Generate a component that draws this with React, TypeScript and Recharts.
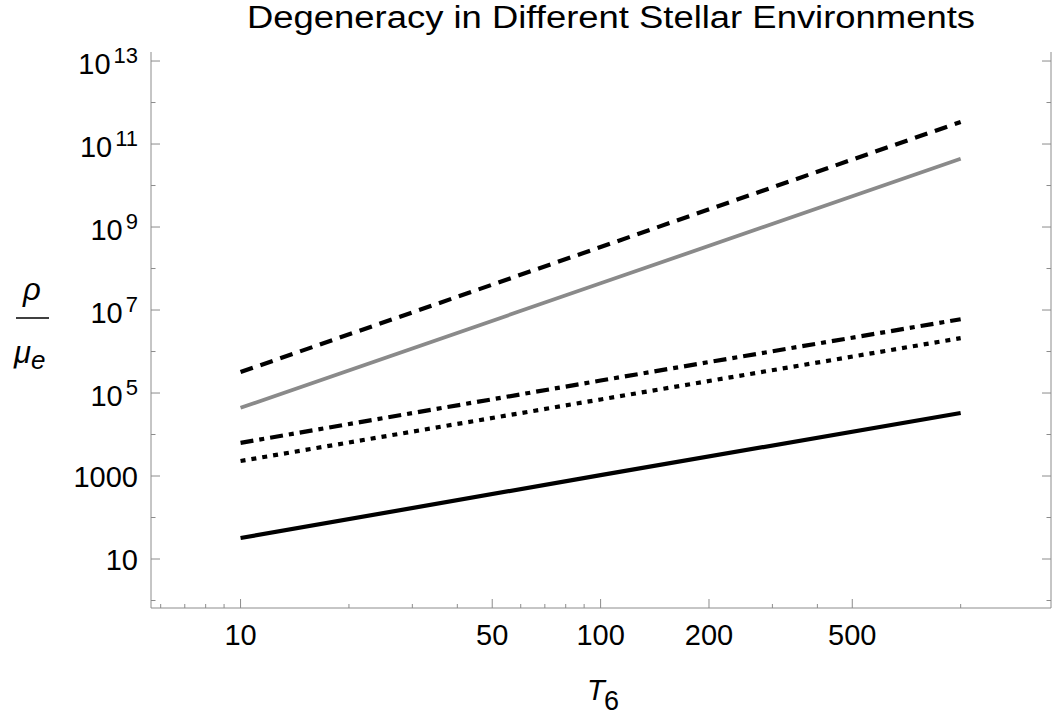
import { LineChart, Line, XAxis, YAxis } from 'recharts';

// T6 sample points
const temps = [10, 100, 1000];

// rho / mu_e at T6 = 10, 100, 1000
const solidBlack = [32, 1050, 33000];
const dotted = [2300, 70000, 2100000];
const dashDot = [6300, 200000, 6000000];
const solidGray = [44000, 44000000, 44000000000];
const dashed = [320000, 330000000, 340000000000];

const xMajor = [10, 50, 100, 200, 500];
const xMinor = [6, 7, 8, 9, 20, 30, 40, 60, 70, 80, 90, 300, 400, 1000];
const yTicks = [1, 10, 100, 1e3, 1e4, 1e5, 1e6, 1e7, 1e8, 1e9, 1e10, 1e11, 1e12, 1e13];

const xDomain = [5.64, 1782];
const yDomain = [0.66, 1.65e13];

const FRAME = '#8c8c8c';
const FONT = '"Liberation Sans", Arial, sans-serif';

const toPoints = (vals: number[]) => temps.map((t, i) => ({ t, v: vals[i] }));

const series = [
  { key: 'solid', data: toPoints(solidBlack), stroke: '#000', width: 4.2, dash: undefined },
  { key: 'dotted', data: toPoints(dotted), stroke: '#000', width: 4.2, dash: '5 6' },
  { key: 'dashdot', data: toPoints(dashDot), stroke: '#000', width: 4.2, dash: '13 6 5 6' },
  { key: 'gray', data: toPoints(solidGray), stroke: '#8a8a8a', width: 3.8, dash: undefined },
  { key: 'dashed', data: toPoints(dashed), stroke: '#000', width: 4.2, dash: '13 8' },
];

function XTick(props: any) {
  const { x, y, payload, top } = props;
  const v = payload.value;
  const major = xMajor.includes(v);
  const len = major ? 9 : 4;
  const dir = top ? 1 : -1;
  return (
    <g>
      <line x1={x} x2={x} y1={y} y2={y + dir * len} stroke={FRAME} strokeWidth={1} />
      {major && !top && (
        <text x={x} y={y + 37} textAnchor="middle" fontSize={29} fontFamily={FONT} fill="#000">
          {v}
        </text>
      )}
    </g>
  );
}

function YTick(props: any) {
  const { x, y, payload, right } = props;
  const exp = Math.round(Math.log10(payload.value));
  const major = exp % 2 === 1;
  const len = major ? 9 : 4.5;
  const dir = right ? -1 : 1;
  let label = null;
  if (major && !right) {
    if (exp === 1 || exp === 3) {
      label = (
        <text x={x - 13} y={y + 10.5} textAnchor="end" fontSize={29} fontFamily={FONT} fill="#000">
          {exp === 1 ? '10' : '1000'}
        </text>
      );
    } else {
      label = (
        <text x={x - 13} y={y + 13} textAnchor="end" fontSize={29} fontFamily={FONT} fill="#000">
          10
          <tspan dx={3} dy={-11} fontSize={22}>
            {exp}
          </tspan>
        </text>
      );
    }
  }
  return (
    <g>
      <line x1={x} x2={x + dir * len} y1={y} y2={y} stroke={FRAME} strokeWidth={1} />
      {label}
    </g>
  );
}

const xTicks = [...xMajor, ...xMinor].sort((a, b) => a - b);

export default function App() {
  return (
    <div style={{ position: 'absolute', left: 0, top: 0, width: 1055, height: 715, background: '#fff' }}>
      <LineChart width={1055} height={715} margin={{ top: 52, right: 0, bottom: 0, left: 0 }}>
        <XAxis
          xAxisId="b"
          dataKey="t"
          type="number"
          scale="log"
          domain={xDomain}
          allowDataOverflow
          ticks={xTicks}
          interval={0}
          height={107}
          tickSize={0}
          tickMargin={0}
          tickLine={false}
          axisLine={{ stroke: FRAME }}
          tick={<XTick />}
        />
        <XAxis
          xAxisId="t"
          orientation="top"
          dataKey="t"
          type="number"
          scale="log"
          domain={xDomain}
          allowDataOverflow
          ticks={xTicks}
          interval={0}
          height={0}
          tickSize={0}
          tickMargin={0}
          tickLine={false}
          axisLine={{ stroke: FRAME }}
          tick={<XTick top />}
        />
        <YAxis
          yAxisId="l"
          type="number"
          scale="log"
          domain={yDomain}
          allowDataOverflow
          ticks={yTicks}
          interval={0}
          width={151}
          tickSize={0}
          tickMargin={0}
          tickLine={false}
          axisLine={{ stroke: FRAME }}
          tick={<YTick />}
        />
        <YAxis
          yAxisId="r"
          orientation="right"
          type="number"
          scale="log"
          domain={yDomain}
          allowDataOverflow
          ticks={yTicks}
          interval={0}
          width={4}
          tickSize={0}
          tickMargin={0}
          tickLine={false}
          axisLine={{ stroke: FRAME }}
          tick={<YTick right />}
        />
        {series.map((s) => (
          <Line
            key={s.key}
            xAxisId="b"
            yAxisId="l"
            data={s.data}
            dataKey="v"
            stroke={s.stroke}
            strokeWidth={s.width}
            strokeDasharray={s.dash}
            dot={false}
            activeDot={false}
            isAnimationActive={false}
          />
        ))}
        <Line
          xAxisId="t"
          yAxisId="r"
          data={toPoints(solidBlack)}
          dataKey="v"
          stroke="none"
          dot={false}
          activeDot={false}
          isAnimationActive={false}
        />
      </LineChart>
      <svg
        width={1055}
        height={715}
        style={{ position: 'absolute', left: 0, top: 0, pointerEvents: 'none' }}
        fontFamily={FONT}
      >
        <text
          x={247}
          y={28}
          fontSize={31}
          textLength={728}
          lengthAdjust="spacingAndGlyphs"
          fill="#000"
        >
          Degeneracy in Different Stellar Environments
        </text>
        <text x={32} y={300} textAnchor="middle" fontSize={31} fontStyle="italic" fill="#000">
          ρ
        </text>
        <line x1={16} x2={49} y1={318} y2={318} stroke="#000" strokeWidth={1.5} />
        <text x={14} y={363} fontSize={31} fontStyle="italic" fill="#000">
          μ
          <tspan dy={6} fontSize={26}>
            e
          </tspan>
        </text>
        <text x={587} y={700} fontSize={29} fontStyle="italic" fill="#000">
          T
        </text>
        <text x={604} y={710} fontSize={27} fill="#000">
          6
        </text>
      </svg>
    </div>
  );
}
